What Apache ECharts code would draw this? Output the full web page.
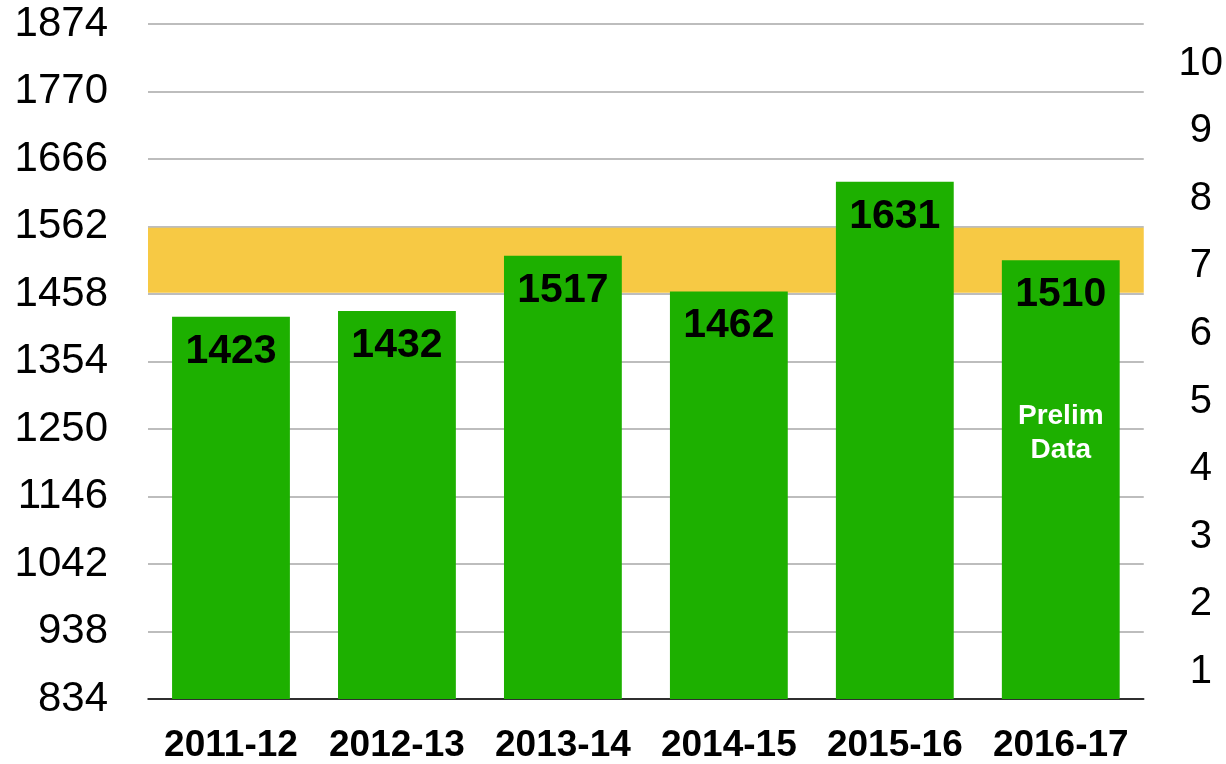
<!DOCTYPE html>
<html>
<head>
<meta charset="utf-8">
<script src="https://cdn.jsdelivr.net/npm/echarts@6/dist/echarts.min.js"></script>
<style>
  html, body { margin: 0; padding: 0; background: #fff; }
  #chart { width: 1226px; height: 764px; }
</style>
</head>
<body>
<div id="chart"></div>
<script>
const years = ['2011-12', '2012-13', '2013-14', '2014-15', '2015-16', '2016-17']
const counts = [1423, 1432, 1517, 1462, 1631, 1510]
const targetBand = [1460, 1560]
const rightTicks = [1, 2, 3, 4, 5, 6, 7, 8, 9, 10]
const noteYear = '2016-17'
const noteValue = 1243
const noteText = 'Prelim\nData'

const font = 'Liberation Sans, Arial, Helvetica, sans-serif'
const chart = echarts.init(document.getElementById('chart'))

chart.setOption({
  animation: false,
  grid: { left: 148, right: 81, top: 24, bottom: 63 },
  xAxis: {
    type: 'category',
    data: years,
    axisLine: { lineStyle: { color: '#000', width: 1.5 } },
    axisTick: { show: false },
    axisLabel: {
      interval: 0,
      color: '#000', fontFamily: font, fontWeight: 'bold', fontSize: 37, margin: 28
    }
  },
  yAxis: [
    {
      type: 'value',
      min: 834,
      max: 1874,
      interval: 104,
      axisLine: { show: false },
      axisTick: { show: false },
      axisLabel: {
        formatter: (v) => String(v),
        color: '#000', fontFamily: font, fontSize: 42, margin: 40
      },
      splitLine: { lineStyle: { color: '#bdbdbd', width: 2 } }
    },
    {
      type: 'value',
      position: 'right',
      min: 0.6,
      max: 10.585,
      axisLine: { show: false },
      axisTick: { show: false },
      splitLine: { show: false },
      axisLabel: {
        customValues: rightTicks,
        color: '#000', fontFamily: font, fontSize: 40, margin: 57, align: 'center'
      }
    }
  ],
  series: [
    {
      // target band
      type: 'line',
      data: [],
      z: 1,
      markArea: {
        silent: true,
        itemStyle: { color: '#F7C944' },
        data: [[{ yAxis: targetBand[0] }, { yAxis: targetBand[1] }]]
      }
    },
    {
      type: 'bar',
      data: counts,
      z: 3,
      barWidth: '71%',
      itemStyle: { color: '#1DB000' },
      label: {
        show: true,
        position: 'insideTop',
        distance: 14,
        color: '#000',
        fontFamily: font,
        fontWeight: 'bold',
        fontSize: 41
      },
      markPoint: {
        symbol: 'circle',
        symbolSize: 0,
        data: [{ coord: [noteYear, noteValue] }],
        label: {
          show: true,
          position: 'inside',
          formatter: noteText,
          color: '#fff',
          fontFamily: font,
          fontWeight: 'bold',
          fontSize: 28,
          lineHeight: 34
        }
      }
    }
  ]
})
</script>
</body>
</html>
